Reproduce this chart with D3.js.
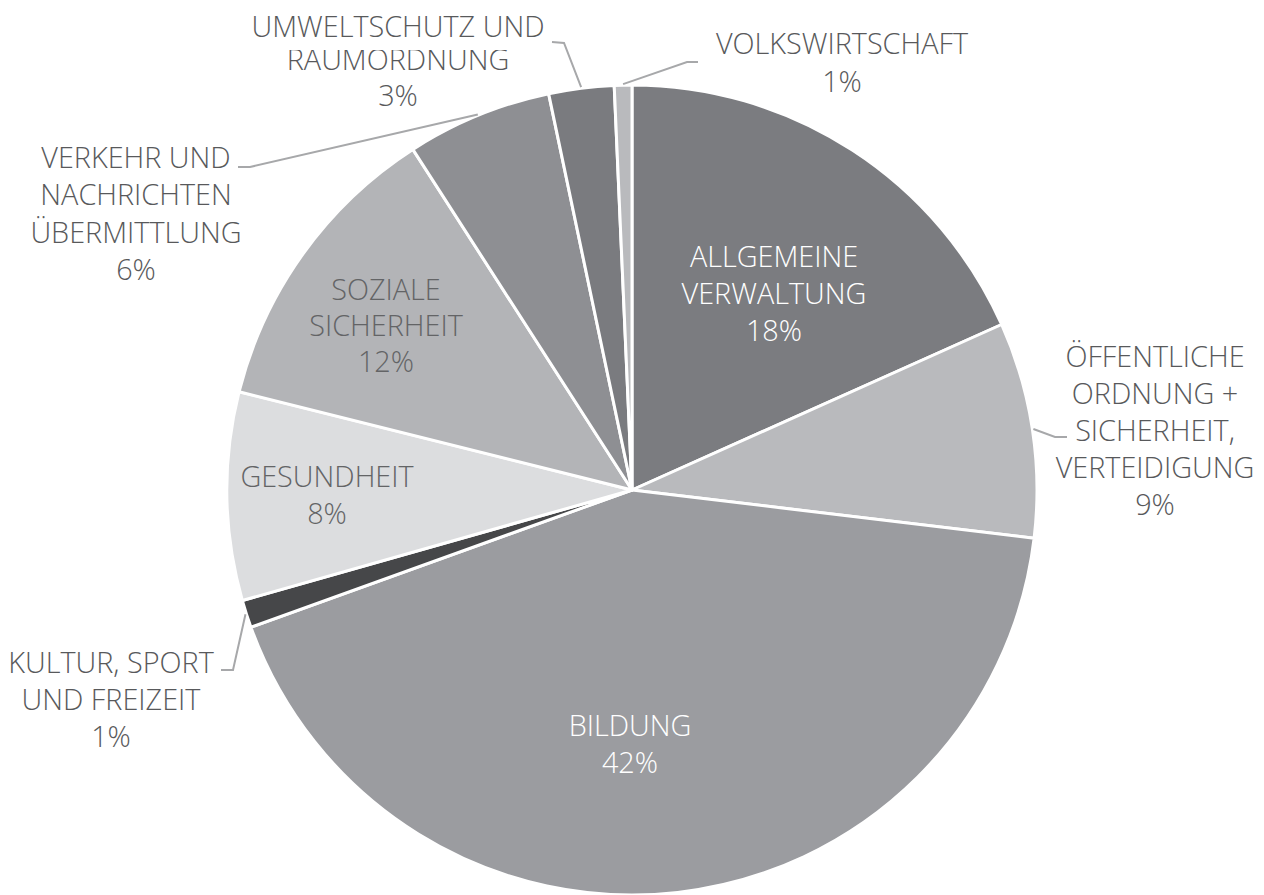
<!DOCTYPE html>
<html>
<head>
<meta charset="utf-8">
<script src="https://cdn.jsdelivr.net/npm/d3@7"></script>
<style>
  body { margin: 0; background: #fff; }
  svg { display: block; }
  text { font-family: "Open Sans", "Noto Sans", sans-serif; font-weight: 300; }
</style>
</head>
<body>
<svg id="chart" width="1264" height="895"></svg>
<script>
// slices, clockwise from 12 o'clock
let categories = [
    "Allgemeine Verwaltung",
    "Öffentliche Ordnung + Sicherheit, Verteidigung",
    "Bildung",
    "Kultur, Sport und Freizeit",
    "Gesundheit",
    "Soziale Sicherheit",
    "Verkehr und Nachrichtenübermittlung",
    "Umweltschutz und Raumordnung",
    "Volkswirtschaft"
]
let shares = [18.3, 8.6, 42.6, 1.1, 8.3, 12.0, 5.8, 2.6, 0.7]
let labelLines = [
    ["ALLGEMEINE", "VERWALTUNG"],
    ["ÖFFENTLICHE", "ORDNUNG +", "SICHERHEIT,", "VERTEIDIGUNG"],
    ["BILDUNG"],
    ["KULTUR, SPORT", "UND FREIZEIT"],
    ["GESUNDHEIT"],
    ["SOZIALE", "SICHERHEIT"],
    ["VERKEHR UND", "NACHRICHTEN", "ÜBERMITTLUNG"],
    ["UMWELTSCHUTZ UND", "RAUMORDNUNG"],
    ["VOLKSWIRTSCHAFT"]
]
let percentLabels = ["18%", "9%", "42%", "1%", "8%", "12%", "6%", "3%", "1%"]

let palette = ["#7b7c80", "#b9babd", "#9b9ca0", "#464749", "#dcdddf", "#b3b4b7", "#8e8f93", "#7a7b7f", "#b9babd"]

// label placement: x, baselines, text colour, leader elbow/end (outside labels only)
let layout = [
    {x: 774, ys: [267, 304, 341], fill: "#ffffff"},
    {x: 1155, ys: [367, 404, 441, 478, 515], fill: "#58595b", elbow: [1055, 437], end: [1067, 437]},
    {x: 630, ys: [736, 773], fill: "#ffffff"},
    {x: 111, ys: [673, 710, 747], fill: "#58595b", elbow: [233, 670], end: [221, 670]},
    {x: 327, ys: [487, 524], fill: "#636466"},
    {x: 386, ys: [300, 336, 372], fill: "#636466"},
    {x: 136, ys: [168, 205, 243, 280], fill: "#58595b", elbow: [250, 167], end: [238, 167]},
    {x: 398, ys: [37, 70, 106], fill: "#58595b", elbow: [564, 43], end: [552, 42], clip: [1, 50]},
    {x: 842, ys: [54, 92], fill: "#58595b", elbow: [687, 62], end: [698, 62]}
]

let width = 1264, height = 895
let cx = 632, cy = 490, radius = 405

let svg = d3.select("#chart")

let slices = categories.map((c, i) => ({name: c, value: shares[i], index: i}))

let pie = d3.pie()
    .value(d => d.value)
    .sort(null)

let arc = d3.arc()
    .innerRadius(0)
    .outerRadius(radius)

let arcs = pie(slices)

let g = svg.append("g")
    .attr("transform", `translate(${cx},${cy})`)

g.selectAll("path.slice")
    .data(arcs)
    .enter()
    .append("path")
        .attr("class", "slice")
        .attr("d", arc)
        .attr("fill", d => palette[d.index])
        .attr("stroke", "#fff")
        .attr("stroke-width", 3)
        .attr("stroke-linejoin", "round")

// leader lines from the middle of the outer rim
let leaders = arcs.filter(d => layout[d.index].elbow)

svg.selectAll("path.leader")
    .data(leaders)
    .enter()
    .append("path")
        .attr("class", "leader")
        .attr("d", d => {
            let mid = (d.startAngle + d.endAngle) / 2
            let r = radius + 1
            let sx = cx + r * Math.sin(mid)
            let sy = cy - r * Math.cos(mid)
            let L = layout[d.index]
            return d3.line()([[sx, sy], L.elbow, L.end])
        })
        .attr("fill", "none")
        .attr("stroke", "#a7a8aa")
        .attr("stroke-width", 2)

// the second line of the Umweltschutz label is cut at the top in the original
let defs = svg.append("defs")
layout.forEach((L, i) => {
    if (!L.clip) return
    defs.append("clipPath")
        .attr("id", "clip-" + i)
        .append("rect")
            .attr("x", 0)
            .attr("y", L.clip[1])
            .attr("width", width)
            .attr("height", height)
})

let lineData = []
arcs.forEach(d => {
    let L = layout[d.index]
    let lines = labelLines[d.index].concat([percentLabels[d.index]])
    lines.forEach((t, j) => {
        lineData.push({text: t, x: L.x, y: L.ys[j], fill: L.fill,
            clip: L.clip && L.clip[0] == j ? "url(#clip-" + d.index + ")" : null})
    })
})

svg.selectAll("text.label")
    .data(lineData)
    .enter()
    .append("text")
        .attr("class", "label")
        .attr("text-anchor", "middle")
        .attr("font-size", 28.8)
        .attr("x", d => d.x)
        .attr("y", d => d.y)
        .attr("fill", d => d.fill)
        .attr("clip-path", d => d.clip)
        .text(d => d.text)
</script>
</body>
</html>
